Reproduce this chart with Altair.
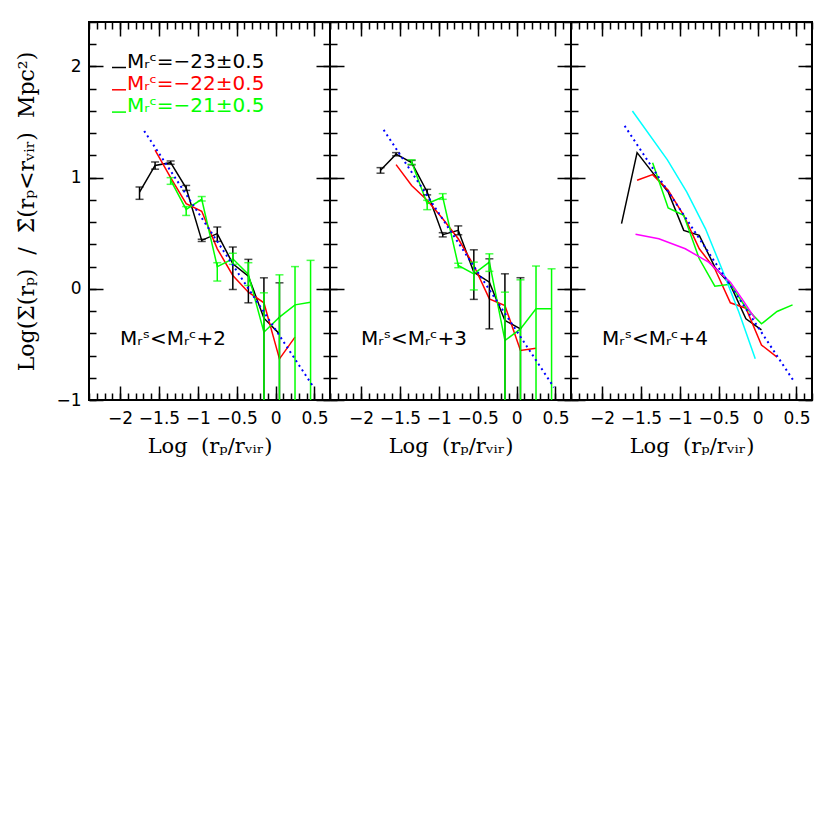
import altair as alt
import pandas as pd

# ---------------- data ----------------
X_BINS = [-1.75, -1.55, -1.35, -1.15, -0.95, -0.75, -0.55, -0.35, -0.15, 0.05, 0.25, 0.45]
BLACK_X = X_BINS[0:10]
RED_X = X_BINS[1:11]
GREEN_X = X_BINS[2:12]
BELOW = -1.3  # lower error reaches below the plotted range

# panel 1 : Mr^s < Mr^c + 2
P1_BLACK_Y = [0.870, 1.110, 1.135, 0.907, 0.436, 0.496, 0.225, 0.114, -0.264, -0.405]
P1_BLACK_HI = [0.916, 1.141, 1.150, 0.930, 0.446, 0.556, 0.376, 0.265, 0.099, 0.054]
P1_BLACK_LO = [0.805, 1.076, 1.120, 0.885, 0.426, 0.427, -0.006, -0.126, BELOW, BELOW]
P1_RED_Y = [1.247, 1.000, 0.766, 0.697, 0.360, 0.120, -0.030, -0.126, -0.630, -0.435]
P1_GREEN_Y = [0.977, 0.715, 0.805, 0.200, 0.270, 0.130, -0.390, -0.255, -0.144, -0.120]
P1_GREEN_HI = [1.000, 0.740, 0.830, 0.235, 0.320, 0.235, -0.036, 0.126, 0.200, 0.256]
P1_GREEN_LO = [0.940, 0.660, 0.790, 0.070, 0.220, 0.030, BELOW, BELOW, BELOW, BELOW]
P1_BLUE_X = [-1.69, 0.49]
P1_BLUE_Y = [1.420, -0.886]

# panel 2 : Mr^s < Mr^c + 3
P2_BLACK_Y = [1.067, 1.211, 1.135, 0.871, 0.487, 0.526, 0.150, 0.060, -0.285, -0.360]
P2_BLACK_HI = [1.090, 1.225, 1.155, 0.895, 0.505, 0.566, 0.351, 0.270, 0.135, 0.100]
P2_BLACK_LO = [1.040, 1.196, 1.115, 0.845, 0.467, 0.486, -0.095, -0.360, BELOW, BELOW]
P2_RED_Y = [1.117, 0.930, 0.796, 0.630, 0.450, 0.210, -0.090, -0.150, -0.555, -0.534]
P2_GREEN_Y = [1.141, 0.766, 0.826, 0.210, 0.135, 0.240, -0.465, -0.360, -0.180, -0.180]
P2_GREEN_HI = [1.160, 0.796, 0.856, 0.230, 0.240, 0.315, -0.030, 0.081, 0.205, 0.180]
P2_GREEN_LO = [1.120, 0.712, 0.805, 0.190, -0.010, 0.157, BELOW, BELOW, BELOW, BELOW]
P2_BLUE_X = [-1.71, 0.48]
P2_BLUE_Y = [1.430, -0.886]

# panel 3 : Mr^s < Mr^c + 4
P3_BLACK_Y = [0.586, 1.225, 1.045, 0.871, 0.526, 0.481, 0.195, 0.036, -0.270, -0.369]
P3_RED_Y = [0.977, 1.027, 0.886, 0.661, 0.360, 0.180, -0.126, -0.174, -0.505, -0.615]
P3_GREEN_Y = [1.135, 0.727, 0.661, 0.270, 0.024, 0.040, -0.170, -0.315, -0.204, -0.144]
P3_BLUE_X = [-1.71, 0.475]
P3_BLUE_Y = [1.466, -0.840]
CYAN_X = [-1.61, -1.16, -0.91, -0.67, -0.46, -0.24, -0.03]
CYAN_Y = [1.60, 1.16, 0.87, 0.54, 0.18, -0.21, -0.63]
MAGENTA_X = [-1.57, -1.27, -0.93, -0.63, -0.35, -0.20, -0.03]
MAGENTA_Y = [0.49, 0.45, 0.36, 0.24, 0.06, -0.09, -0.27]

NB = "\u00a0"
LEGEND = ["Mᵣᶜ=−23±0.5", "Mᵣᶜ=−22±0.5", "Mᵣᶜ=−21±0.5"]
PANEL_LABELS = ["Mᵣˢ<Mᵣᶜ+2", "Mᵣˢ<Mᵣᶜ+3", "Mᵣˢ<Mᵣᶜ+4"]
X_TITLE = "Log" + NB * 2 + "(rₚ/rᵥᵢᵣ)"
Y_TITLE = "Log(Σ(rₚ)" + NB * 2 + "/" + NB * 2 + "Σ̄(rₚ<rᵥᵢᵣ)" + NB * 2 + "Mpc²)"

X_DOMAIN = [-2.4, 0.7]
Y_DOMAIN = [-1.0, 2.4]
X_MAJOR = [-2, -1.5, -1, -0.5, 0, 0.5]
X_MINOR = [round(-2.4 + 0.1 * i, 2) for i in range(32)]
Y_MAJOR = [-1, 0, 1, 2]
Y_MINOR = [round(-1.0 + 0.2 * i, 2) for i in range(18)]

BLACK, RED, GREEN, BLUE = "#000000", "#ff0000", "#00ff00", "#0000ff"
CYAN, MAGENTA = "#00ffff", "#ff00ff"

W, H = 241, 378
NUM_FONT = "DejaVu Sans"
TXT_FONT = "DejaVu Serif"

XSC = alt.Scale(domain=X_DOMAIN, nice=False, zero=False)
YSC = alt.Scale(domain=Y_DOMAIN, nice=False, zero=False)


def tick_axis(orient, values, length, **kw):
    base = dict(orient=orient, values=values, offset=-length, tickSize=length,
                domain=False, grid=False, tickColor="black", tickWidth=1.5)
    if "labels" not in kw:
        kw["labels"] = False
    if "title" not in kw:
        kw["title"] = None
    base.update(kw)
    return alt.Axis(**base)


def series_df(xs, ys):
    return pd.DataFrame({"x": xs, "y": ys})


def err_df(xs, ys, lo, hi):
    return pd.DataFrame({"x": xs, "y": ys, "lo": lo, "hi": hi})


def line_layer(df, color, xaxis=None, yaxis=None, dash=None, width=1.5):
    kw = dict(color=color, strokeWidth=width, clip=True)
    if dash is not None:
        kw["strokeDash"] = dash
    return alt.Chart(df).mark_line(**kw).encode(
        x=alt.X("x:Q", scale=XSC, axis=xaxis),
        y=alt.Y("y:Q", scale=YSC, axis=yaxis),
    )


def error_layers(df, color):
    bars = alt.Chart(df).mark_rule(color=color, strokeWidth=1.5, clip=True).encode(
        x=alt.X("x:Q", scale=XSC, axis=None),
        y=alt.Y("lo:Q", scale=YSC, axis=None),
        y2="hi:Q",
    )
    cap_hi = alt.Chart(df).mark_tick(color=color, orient="horizontal", size=8,
                                     thickness=1.5, clip=True).encode(
        x=alt.X("x:Q", scale=XSC, axis=None),
        y=alt.Y("hi:Q", scale=YSC, axis=None),
    )
    cap_lo = alt.Chart(df).mark_tick(color=color, orient="horizontal", size=8,
                                     thickness=1.5, clip=True).encode(
        x=alt.X("x:Q", scale=XSC, axis=None),
        y=alt.Y("lo:Q", scale=YSC, axis=None),
    )
    return [bars, cap_hi, cap_lo]


def make_panel(i, black, red, green, blue_x, blue_y, black_err=None, green_err=None, extra=()):
    first = i == 0
    ax_bottom = tick_axis("bottom", X_MAJOR, 14, labels=True, format=".1~f",
                          labelFont=NUM_FONT, labelFontSize=17, labelColor="black",
                          labelPadding=10, labelOverlap=False, labelFlush=False,
                          title=X_TITLE, titleFont=TXT_FONT, titleFontSize=21,
                          titleFontWeight="normal", titleColor="black", titlePadding=9)
    if first:
        ax_left = tick_axis("left", Y_MAJOR, 14, labels=True, format="~g",
                            labelFont=NUM_FONT, labelFontSize=17, labelColor="black",
                            labelPadding=8, labelOverlap=False, labelFlush=False,
                            title=Y_TITLE, titleFont=TXT_FONT, titleFontSize=22,
                            titleFontWeight="normal", titleColor="black", titlePadding=17)
    else:
        ax_left = tick_axis("left", Y_MAJOR, 14)
    layers = [
        line_layer(series_df(BLACK_X, black), BLACK, ax_bottom, ax_left),
        line_layer(series_df(RED_X, red), RED,
                   tick_axis("bottom", X_MINOR, 7), tick_axis("left", Y_MINOR, 7)),
        line_layer(series_df(GREEN_X, green), GREEN,
                   tick_axis("top", X_MAJOR, 14), tick_axis("right", Y_MAJOR, 14)),
    ]
    for extra_df, color in extra:
        layers.append(line_layer(extra_df, color))
    if black_err is not None:
        layers += error_layers(err_df(BLACK_X, black, *black_err), BLACK)
    if green_err is not None:
        layers += error_layers(err_df(GREEN_X, green, *green_err), GREEN)
    layers.append(line_layer(series_df(blue_x, blue_y), BLUE,
                             tick_axis("top", X_MINOR, 7), tick_axis("right", Y_MINOR, 7),
                             dash=[2, 3.5], width=2))
    if first:
        for k, (txt, col) in enumerate(zip(LEGEND, [BLACK, RED, GREEN])):
            yy = 45.5 + 22.3 * k
            layers.append(alt.Chart(pd.DataFrame({"t": [txt]})).mark_rule(
                color=col, strokeWidth=1.5).encode(
                x=alt.value(23), x2=alt.value(37), y=alt.value(yy)))
            layers.append(alt.Chart(pd.DataFrame({"t": [txt]})).mark_text(
                color=col, font=NUM_FONT, fontSize=20, align="left",
                baseline="alphabetic").encode(
                x=alt.value(38), y=alt.value(yy), text="t:N"))
    layers.append(alt.Chart(pd.DataFrame({"t": [PANEL_LABELS[i]]})).mark_text(
        color="black", font=NUM_FONT, fontSize=20, align="left",
        baseline="alphabetic").encode(x=alt.value(31), y=alt.value(323), text="t:N"))
    return alt.layer(*layers).resolve_axis(x="independent", y="independent").properties(
        width=W, height=H)


p1 = make_panel(0, P1_BLACK_Y, P1_RED_Y, P1_GREEN_Y, P1_BLUE_X, P1_BLUE_Y,
                black_err=(P1_BLACK_LO, P1_BLACK_HI), green_err=(P1_GREEN_LO, P1_GREEN_HI))
p2 = make_panel(1, P2_BLACK_Y, P2_RED_Y, P2_GREEN_Y, P2_BLUE_X, P2_BLUE_Y,
                black_err=(P2_BLACK_LO, P2_BLACK_HI), green_err=(P2_GREEN_LO, P2_GREEN_HI))
p3 = make_panel(2, P3_BLACK_Y, P3_RED_Y, P3_GREEN_Y, P3_BLUE_X, P3_BLUE_Y,
                extra=[(series_df(CYAN_X, CYAN_Y), CYAN),
                       (series_df(MAGENTA_X, MAGENTA_Y), MAGENTA)])

chart = alt.hconcat(p1, p2, p3, spacing=0, bounds="flush").properties(
    padding={"left": 6, "top": 12, "right": 5, "bottom": 5},
    background="white",
).configure_view(stroke="black", strokeWidth=2)

chart.save("out.html", embed_options={"renderer": "svg", "actions": False})
